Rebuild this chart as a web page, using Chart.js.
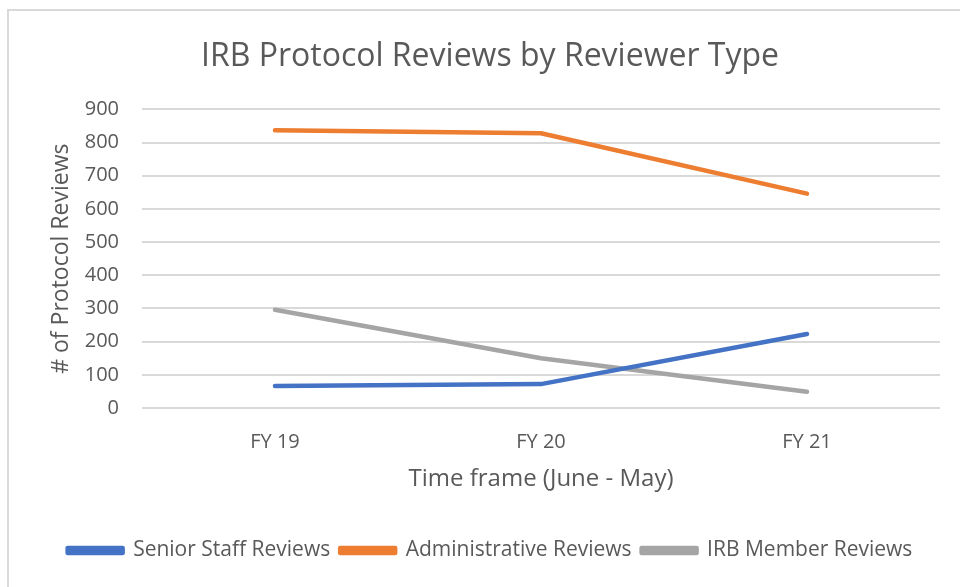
<!DOCTYPE html>
<html>
<head>
<meta charset="utf-8">
<script src="https://cdn.jsdelivr.net/npm/chart.js@4"></script>
<style>
	html, body { margin: 0; padding: 0; background: #fff; overflow: hidden; }
	#wrap { position: absolute; left: 0; top: 0; width: 960px; height: 587px; }
	#frame { position: absolute; left: 7px; top: 9px; width: 980px; height: 620px; border-left: 2px solid #d9d9d9; border-top: 2px solid #d9d9d9; pointer-events: none; }
</style>
</head>
<body>
<div id="wrap"><canvas id="irb-chart"></canvas></div>
<div id="frame"></div>
<script>
	'use strict';

	const categories = ['FY 19', 'FY 20', 'FY 21'];
	const senior_staff = [66, 72, 223];
	const administrative = [837, 828, 646];
	const irb_member = [296, 150, 49];
	const y_ticks = [0, 100, 200, 300, 400, 500, 600, 700, 800, 900];

	const font_main = '"Open Sans", "Noto Sans", sans-serif';
	const text_grey = '#595959';

	function series( label, data, color ) {
		return {
			label: label,
			data: data,
			borderColor: color,
			backgroundColor: color,
			borderWidth: 4.5,
			borderCapStyle: 'round',
			borderJoinStyle: 'round',
			pointRadius: 0,
			pointHoverRadius: 0,
			tension: 0
		};
	}

	const ctx = document.getElementById('irb-chart');

	new Chart(ctx, {
		type: 'line',
		data: {
			labels: categories,
			datasets: [
				series('Senior Staff Reviews', senior_staff, '#4472C4'),
				series('Administrative Reviews', administrative, '#ED7D31'),
				series('IRB Member Reviews', irb_member, '#A5A5A5')
			]
		},
		options: {
			responsive: true,
			maintainAspectRatio: false,
			animation: false,
			layout: {
				padding: { left: 40, right: 20, top: 0, bottom: 16 }
			},
			plugins: {
				title: {
					display: true,
					text: 'IRB Protocol Reviews by Reviewer Type',
					color: text_grey,
					font: { family: font_main, size: 32, weight: 'normal' },
					padding: { top: 38, bottom: 33 }
				},
				legend: {
					position: 'bottom',
					labels: {
						color: text_grey,
						font: { family: font_main, size: 21 },
						boxWidth: 55,
						boxHeight: 5,
						padding: 10
					}
				},
				tooltip: { enabled: false }
			},
			scales: {
				x: {
					offset: true,
					afterFit: function( scale ) {
						scale.height = 122;
					},
					grid: { display: false },
					border: { display: false },
					ticks: {
						color: text_grey,
						font: { family: font_main, size: 20 },
						padding: 14
					},
					title: {
						display: true,
						text: 'Time frame (June - May)',
						color: text_grey,
						font: { family: font_main, size: 24 },
						padding: { top: 0, bottom: 36 }
					}
				},
				y: {
					min: 0,
					max: 900,
					afterBuildTicks: function( scale ) {
						scale.ticks = y_ticks.map(function( v ) { return { value: v }; });
					},
					afterFit: function( scale ) {
						scale.width = 102;
					},
					grid: { color: '#d9d9d9', lineWidth: 2, drawTicks: false },
					border: { display: false },
					ticks: {
						color: text_grey,
						font: { family: font_main, size: 20 },
						padding: 23
					},
					title: {
						display: true,
						text: '# of Protocol Reviews',
						color: text_grey,
						font: { family: font_main, size: 23 },
						padding: { top: 8, bottom: 0 }
					}
				}
			}
		}
	});
</script>
</body>
</html>
